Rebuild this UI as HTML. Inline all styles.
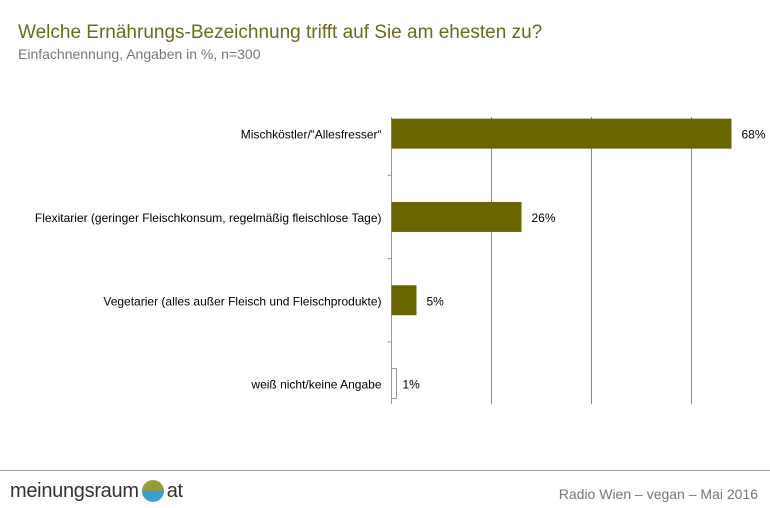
<!DOCTYPE html>
<html><head><meta charset="utf-8"><style>
body{margin:0;width:770px;height:508px;background:#fff;font-family:"Liberation Sans",sans-serif;overflow:hidden;position:relative}
.t{position:absolute;white-space:nowrap}
</style></head><body>
<div class="t" style="left:18px;top:22px;font-size:19px;color:#6b6b1e">Welche Ernährungs-Bezeichnung trifft auf Sie am ehesten zu?</div>
<div class="t" style="left:18px;top:46px;font-size:14px;color:#777">Einfachnennung, Angaben in %, n=300</div>
<svg id="chart" width="770" height="508" style="position:absolute;left:0;top:0"></svg>
<div style="position:absolute;left:0;top:470px;width:770px;height:1px;background:#999"></div>
<div class="t" style="left:10px;top:480px;font-size:20px;color:#333;letter-spacing:-0.3px">meinungsraum<span style="display:inline-block;width:22px;height:22px;border-radius:50%;background:linear-gradient(#9a9a3a 45%,#3aa0d0 55%);vertical-align:-5px;margin:0 3px"></span>at</div>
<div class="t" style="right:12px;top:486px;font-size:14px;color:#777">Radio Wien – vegan – Mai 2016</div>
<script>
const categories=["Mischköstler/“Allesfresser“","Flexitarier (geringer Fleischkonsum, regelmäßig fleischlose Tage)","Vegetarier (alles außer Fleisch und Fleischprodukte)","weiß nicht/keine Angabe"];
const values=[68,26,5,1];
const valueLabels=["68%","26%","5%","1%"];
const gridValues=[20,40,60];
const svg=document.getElementById('chart');const NS='http://www.w3.org/2000/svg';
const x0=391.5,pxPer=5,bandTop=92,band=83.3,barH=30,axTop=117,axBot=404;
const xs=v=>x0+v*pxPer;const yc=i=>bandTop+band*(i+0.5);
function mk(t,a,p){const e=document.createElementNS(NS,t);for(const k in a)e.setAttribute(k,a[k]);(p||svg).appendChild(e);return e;}
gridValues.forEach(g=>{const l=mk('line',{x1:xs(g),x2:xs(g),y1:axTop,y2:axBot,stroke:'#888','stroke-width':1});

});
const ax=mk('line',{x1:x0,x2:x0,y1:axTop,y2:axBot,stroke:'#999','stroke-width':1});


for(let i=1;i<categories.length;i++){const t=mk('line',{x1:x0-4,x2:x0,y1:bandTop+band*i,y2:bandTop+band*i,stroke:'#999'});

}
categories.forEach((c,i)=>{const y=yc(i);
const w=values[i]*pxPer;const dark=values[i]>=3;
const r=mk('rect',{x:x0,y:y-barH/2,width:w,height:barH,fill:dark?'#696600':'#fff',stroke:dark?'#696600':'#999','stroke-width':dark?0:1});


const lt=mk('text',{x:x0-10,y:y+5,'text-anchor':'end','font-size':12,fill:'#000'});lt.textContent=c;


const vt=mk('text',{x:xs(values[i])+(dark?10:6),y:y+5,'font-size':12,fill:'#000'});vt.textContent=valueLabels[i];

});
</script>
</body></html>
